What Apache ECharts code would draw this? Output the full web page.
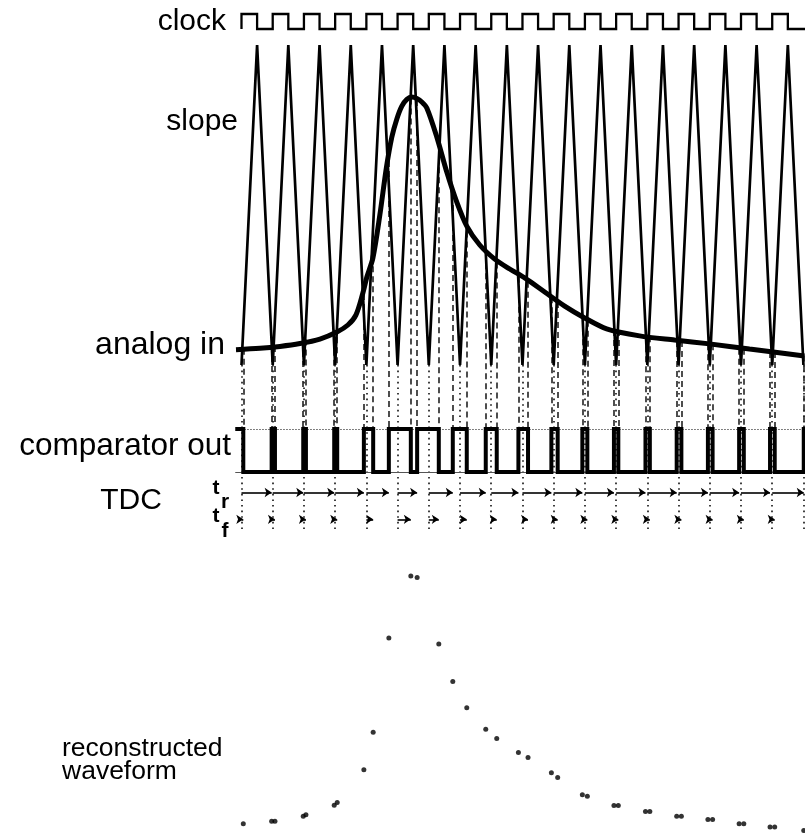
<!DOCTYPE html>
<html><head><meta charset="utf-8">
<script src="https://cdn.jsdelivr.net/npm/echarts@6/dist/echarts.min.js"></script>
<style>html,body{margin:0;padding:0;background:#fff}#c{width:805px;height:840px}</style>
</head><body><div id="c"></div>
<script>
// ---------------- data (time in clock periods, amplitude in slope units) ----------------
const clockRise = [0,1,2,3,4,5,6,7,8,9,10,11,12,13,14,15,16,17];
const clockFall = [0.5,1.5,2.5,3.5,4.5,5.5,6.5,7.5,8.5,9.5,10.5,11.5,12.5,13.5,14.5,15.5,16.5,17.5];
const slopeT = [0,0.5,1,1.5,2,2.5,3,3.5,4,4.5,5,5.5,6,6.5,7,7.5,8,8.5,9,9.5,10,10.5,11,11.5,12,12.5,13,13.5,14,14.5,15,15.5,16,16.5,17,17.5,18];
const slopeV = [0,1,0,1,0,1,0,1,0,1,0,1,0,1,0,1,0,1,0,1,0,1,0,1,0,1,0,1,0,1,0,1,0,1,0,1,0];
const analogT = [-0.176,0.592,1.232,1.872,2.512,3.056,3.408,3.664,3.888,4.016,4.208,4.432,4.64,4.816,4.976,5.136,5.296,5.456,5.616,5.776,5.936,6.256,6.576,6.896,7.216,7.632,8.112,8.592,9.072,9.712,10.352,10.992,11.696,12.752,13.872,14.992,16.272,18.032];
const analogV = [0.048,0.052,0.058,0.067,0.081,0.103,0.125,0.156,0.225,0.275,0.334,0.469,0.616,0.7125,0.769,0.809,0.830,0.8375,0.833,0.822,0.803,0.7125,0.603,0.509,0.434,0.375,0.331,0.300,0.272,0.228,0.184,0.147,0.113,0.091,0.078,0.066,0.050,0.028];
// comparator edges (crossings of slope and analog in), alternating fall / rise, first is a fall
const crossT = [0.058,0.966,1.072,1.978,2.064,2.970,3.066,3.92,4.218,4.72,5.424,5.626,6.32,6.768,7.216,7.824,8.176,8.87,9.178,9.926,10.128,10.918,11.078,11.93,12.07,12.94,13.08,13.94,14.09,14.94,15.09,15.94,16.09,16.93,17.08,18.01];
const crossV = [0.051,0.059,0.059,0.075,0.080,0.110,0.118,0.222,0.340,0.6375,0.833,0.828,0.618,0.500,0.417,0.349,0.320,0.276,0.260,0.212,0.197,0.143,0.138,0.109,0.109,0.090,0.090,0.075,0.075,0.065,0.065,0.051,0.051,0.041,0.041,0.030];
const troughT = [0,1,2,3,4,5,6,7,8,9,10,11,12,13,14,15,16,17,18];

// ---------------- layout ----------------
const FONT = '"Liberation Sans", Arial, Helvetica, sans-serif';
const XMIN = -0.2, XMAX = 18.05, PXU = 31.25;      // px per period
const GL = 241.5 + XMIN * PXU, GW = (XMAX - XMIN) * PXU;
const VPX = 320;                                     // px per slope unit
const BASE = 365;                                    // px of slope value 0
const lv = px => (BASE - px) / VPX;                  // pixel row -> slope units (main grid)
const COMP_HI = lv(429), COMP_LO = lv(472), TR_Y = lv(492.5), TF_Y = lv(519.3), DOT_END = lv(530);

// clock
const clockPts = [[0, 0]];
clockRise.forEach((r, i) => { clockPts.push([r, 0], [r, 1], [clockFall[i], 1], [clockFall[i], 0]); });
clockPts.push([XMAX, 0]);
// slope
const slopePts = slopeT.map((t, i) => [t, slopeV[i]]);
const analogPts = analogT.map((t, i) => [t, analogV[i]]);
// comparator
const compPts = [[XMIN, COMP_HI]];
let hi = true;
crossT.forEach(t => { compPts.push([t, hi ? COMP_HI : COMP_LO]); hi = !hi; compPts.push([t, hi ? COMP_HI : COMP_LO]); });
compPts.push([XMAX, hi ? COMP_HI : COMP_LO]);
// connectors
const dashed = crossT.map((t, i) => ({ coords: [[t, crossV[i]], [t, COMP_HI]] }));
const dotted = troughT.map(t => ({ coords: [[t, 0], [t, DOT_END]] }));
// TDC arrows
const trArrows = [], tfArrows = [];
for (let k = 1; k <= 18; k++) trArrows.push({ coords: [[troughT[k - 1], TR_Y], [crossT[2 * k - 1], TR_Y]] });
for (let k = 0; k <= 17; k++) tfArrows.push({ coords: [[troughT[k], TF_Y], [crossT[2 * k], TF_Y]] });
const recon = crossT.map((t, i) => [t, crossV[i]]);

const ax = (g) => ({ type: 'value', gridIndex: g, min: XMIN, max: XMAX, show: false });
const chart = echarts.init(document.getElementById('c'), null, { renderer: 'canvas' });
chart.setOption({
  animation: false,
  backgroundColor: '#fff',
  grid: [
    { left: GL, width: GW, top: 14, height: 15 },
    { left: GL, width: GW, top: 45, height: 485 },
    { left: GL, width: GW, top: 523, height: 320 }
  ],
  xAxis: [ax(0), ax(1), ax(2)],
  yAxis: [
    { type: 'value', gridIndex: 0, min: 0, max: 1, show: false },
    { type: 'value', gridIndex: 1, min: DOT_END, max: 1, show: false },
    { type: 'value', gridIndex: 2, min: 0, max: 1, show: false }
  ],
  series: [
    { type: 'line', xAxisIndex: 0, yAxisIndex: 0, data: clockPts, showSymbol: false, symbol: 'none', clip: false,
      lineStyle: { color: '#000', width: 2.3, join: 'miter' }, z: 3 },
    { type: 'lines', coordinateSystem: 'cartesian2d', xAxisIndex: 1, yAxisIndex: 1, data: dotted, clip: false,
      lineStyle: { color: '#111', width: 1.6, type: [1.6, 4], opacity: 1 }, z: 1, silent: true },
    { type: 'lines', coordinateSystem: 'cartesian2d', xAxisIndex: 1, yAxisIndex: 1, data: dashed, clip: false,
      lineStyle: { color: '#222', width: 1.6, type: [6, 4], opacity: 1 }, z: 1, silent: true },
    { type: 'lines', coordinateSystem: 'cartesian2d', xAxisIndex: 1, yAxisIndex: 1, clip: false,
      data: [{ coords: [[0, COMP_HI], [XMAX, COMP_HI]] }],
      lineStyle: { color: '#000', width: 1, type: [1, 2], opacity: 1 }, z: 1, silent: true },
    { type: 'lines', coordinateSystem: 'cartesian2d', xAxisIndex: 1, yAxisIndex: 1, clip: false,
      data: [{ coords: [[XMIN, COMP_LO], [XMAX, COMP_LO]] }],
      lineStyle: { color: '#555', width: 1, type: 'solid', opacity: 1 }, z: 1, silent: true },
    { type: 'line', xAxisIndex: 1, yAxisIndex: 1, data: slopePts, showSymbol: false, symbol: 'none', clip: false,
      lineStyle: { color: '#000', width: 2.7 }, z: 2 },
    { type: 'line', xAxisIndex: 1, yAxisIndex: 1, data: analogPts, showSymbol: false, symbol: 'none', clip: false,
      smooth: 0.3, lineStyle: { color: '#000', width: 5 }, z: 4 },
    { type: 'line', xAxisIndex: 1, yAxisIndex: 1, data: compPts, showSymbol: false, symbol: 'none', clip: false,
      lineStyle: { color: '#000', width: 4, join: 'miter' }, z: 3 },
    { type: 'lines', coordinateSystem: 'cartesian2d', xAxisIndex: 1, yAxisIndex: 1, data: trArrows, clip: false,
      symbol: ['none', 'arrow'], symbolSize: 7, lineStyle: { color: '#000', width: 1.6, opacity: 1 }, z: 3, silent: true },
    { type: 'lines', coordinateSystem: 'cartesian2d', xAxisIndex: 1, yAxisIndex: 1, data: tfArrows, clip: false,
      symbol: ['none', 'arrow'], symbolSize: 7, lineStyle: { color: '#000', width: 1.6, opacity: 1 }, z: 3, silent: true },
    { type: 'scatter', xAxisIndex: 2, yAxisIndex: 2, data: recon, symbol: 'circle', symbolSize: 5, clip: false,
      itemStyle: { color: '#000' }, z: 3 }
  ],
  graphic: [
    { type: 'text', x: 226, y: 22, style: { text: 'clock', font: '30px ' + FONT, fill: '#000', align: 'right', verticalAlign: 'middle' } },
    { type: 'text', x: 238, y: 122, style: { text: 'slope', font: '30px ' + FONT, fill: '#000', align: 'right', verticalAlign: 'middle' } },
    { type: 'text', x: 225, y: 345, style: { text: 'analog in', font: '32px ' + FONT, fill: '#000', align: 'right', verticalAlign: 'middle' } },
    { type: 'text', x: 231, y: 446, style: { text: 'comparator out', font: '31.5px ' + FONT, fill: '#000', align: 'right', verticalAlign: 'middle' } },
    { type: 'text', x: 131, y: 501, style: { text: 'TDC', font: '30px ' + FONT, fill: '#000', align: 'center', verticalAlign: 'middle' } },
    { type: 'text', x: 216, y: 488, style: { text: 't', font: 'bold 21px ' + FONT, fill: '#000', align: 'center', verticalAlign: 'middle' } },
    { type: 'text', x: 225, y: 502, style: { text: 'r', font: 'bold 21px ' + FONT, fill: '#000', align: 'center', verticalAlign: 'middle' } },
    { type: 'text', x: 216, y: 516, style: { text: 't', font: 'bold 21px ' + FONT, fill: '#000', align: 'center', verticalAlign: 'middle' } },
    { type: 'text', x: 225, y: 531, style: { text: 'f', font: 'bold 21px ' + FONT, fill: '#000', align: 'center', verticalAlign: 'middle' } },
    { type: 'text', x: 62, y: 749, style: { text: 'reconstructed', font: '26.5px ' + FONT, fill: '#000', align: 'left', verticalAlign: 'middle' } },
    { type: 'text', x: 62, y: 772, style: { text: 'waveform', font: '26.5px ' + FONT, fill: '#000', align: 'left', verticalAlign: 'middle' } }
  ]
});
</script></body></html>
